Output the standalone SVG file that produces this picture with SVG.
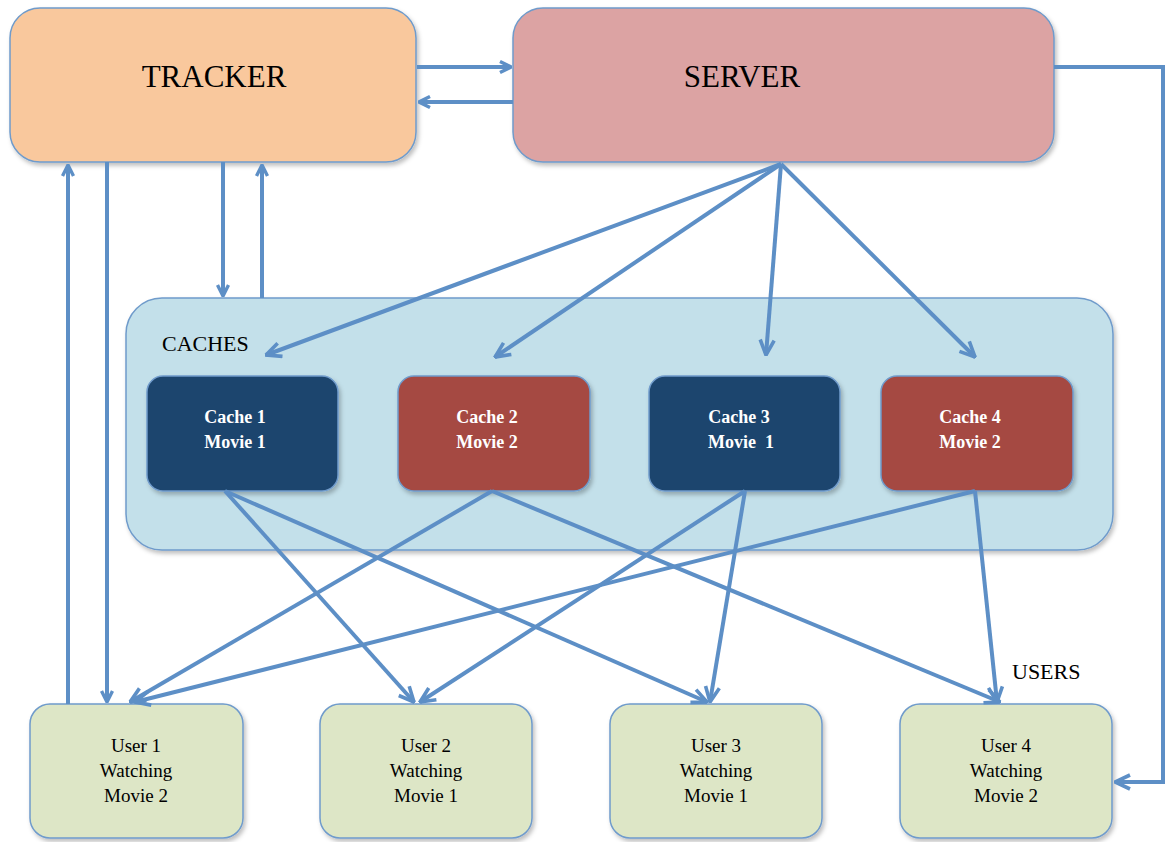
<svg xmlns="http://www.w3.org/2000/svg" width="1165" height="842" viewBox="0 0 1165 842">
<defs>
<style>
.box{stroke:#6F9BCB;stroke-width:1.5}
.tracker{fill:#F9C89D}
.server{fill:#DCA3A3}
.caches{fill:#C3E0EA}
.blue{fill:#1E456E}
.red{fill:#A54A43}
.user{fill:#DDE6C6}
.big{font-family:"Liberation Serif",serif;font-size:31px;fill:#000;text-anchor:middle}
.lbl{font-family:"Liberation Serif",serif;font-size:22px;fill:#000}
.cl{font-family:"Liberation Serif",serif;font-size:18px;font-weight:bold;fill:#fff;text-anchor:middle}
.ul{font-family:"Liberation Serif",serif;font-size:19px;fill:#000;text-anchor:middle}
.c{fill:none;stroke:#5D8FC6;stroke-width:4}
</style>
<marker id="a" viewBox="0 0 14 14" refX="13" refY="7" markerWidth="14" markerHeight="14" markerUnits="userSpaceOnUse" orient="auto">
<polyline points="2,1.5 13,7 2,12.5" fill="none" stroke="#5D8FC6" stroke-width="3.4"/>
</marker>
<marker id="b" viewBox="0 0 18 18" refX="17" refY="9" markerWidth="18" markerHeight="18" markerUnits="userSpaceOnUse" orient="auto">
<polyline points="2,2 17,9 2,16" fill="none" stroke="#5D8FC6" stroke-width="3.6"/>
</marker>
<filter id="sh" x="-5%" y="-5%" width="115%" height="120%">
<feDropShadow dx="2" dy="3" stdDeviation="2" flood-color="#000" flood-opacity="0.25"/>
</filter>
</defs>
<rect width="1165" height="842" fill="#fff"/>
<g id="tracker"><rect class="box tracker" x="10" y="8" width="406" height="154" rx="30" filter="url(#sh)"/><text class="big" x="214" y="87">TRACKER</text></g>
<g id="server"><rect class="box server" x="513" y="8" width="541" height="154" rx="30" filter="url(#sh)"/><text class="big" x="742" y="87">SERVER</text></g>
<g id="caches"><rect class="box caches" x="126" y="298" width="987" height="252" rx="36" filter="url(#sh)"/><text class="lbl" x="162" y="351">CACHES</text></g>
<g id="cache1"><rect class="box blue" x="147" y="376" width="191" height="115" rx="16" filter="url(#sh)"/><text class="cl" x="235" y="423">Cache 1</text><text class="cl" x="235" y="448">Movie 1</text></g>
<g id="cache2"><rect class="box red" x="398" y="376" width="192" height="115" rx="16" filter="url(#sh)"/><text class="cl" x="487" y="423">Cache 2</text><text class="cl" x="487" y="448">Movie 2</text></g>
<g id="cache3"><rect class="box blue" x="649" y="376" width="191" height="115" rx="16" filter="url(#sh)"/><text class="cl" x="739" y="423">Cache 3</text><text class="cl" x="741" y="448" xml:space="preserve">Movie  1</text></g>
<g id="cache4"><rect class="box red" x="881" y="376" width="192" height="115" rx="16" filter="url(#sh)"/><text class="cl" x="970" y="423">Cache 4</text><text class="cl" x="970" y="448">Movie 2</text></g>
<g id="user1"><rect class="box user" x="30" y="704" width="213" height="134" rx="20" filter="url(#sh)"/><text class="ul" x="136" y="752">User 1</text><text class="ul" x="136" y="777">Watching</text><text class="ul" x="136" y="802">Movie 2</text></g>
<g id="user2"><rect class="box user" x="320" y="704" width="212" height="134" rx="20" filter="url(#sh)"/><text class="ul" x="426" y="752">User 2</text><text class="ul" x="426" y="777">Watching</text><text class="ul" x="426" y="802">Movie 1</text></g>
<g id="user3"><rect class="box user" x="610" y="704" width="212" height="134" rx="20" filter="url(#sh)"/><text class="ul" x="716" y="752">User 3</text><text class="ul" x="716" y="777">Watching</text><text class="ul" x="716" y="802">Movie 1</text></g>
<g id="user4"><rect class="box user" x="900" y="704" width="212" height="134" rx="20" filter="url(#sh)"/><text class="ul" x="1006" y="752">User 4</text><text class="ul" x="1006" y="777">Watching</text><text class="ul" x="1006" y="802">Movie 2</text></g>
<text class="lbl" x="1012" y="679">USERS</text>
<g id="connectors" class="c">
<line class="c" x1="417" y1="67" x2="511" y2="67" marker-end="url(#a)"/>
<line class="c" x1="513" y1="102" x2="419" y2="102" marker-end="url(#a)"/>
<line class="c" x1="68" y1="704" x2="68" y2="165" marker-end="url(#a)"/>
<line class="c" x1="107" y1="162" x2="107" y2="702" marker-end="url(#a)"/>
<line class="c" x1="223" y1="162" x2="223" y2="296" marker-end="url(#a)"/>
<line class="c" x1="262" y1="298" x2="262" y2="165" marker-end="url(#a)"/>
<line class="c" x1="781" y1="164" x2="266" y2="355" marker-end="url(#b)"/>
<line class="c" x1="781" y1="164" x2="495" y2="357" marker-end="url(#b)"/>
<line class="c" x1="781" y1="164" x2="766" y2="355" marker-end="url(#b)"/>
<line class="c" x1="781" y1="164" x2="975" y2="357" marker-end="url(#b)"/>
<line class="c" x1="225" y1="491" x2="414" y2="702" marker-end="url(#b)"/>
<line class="c" x1="225" y1="491" x2="707" y2="702" marker-end="url(#b)"/>
<line class="c" x1="492" y1="491" x2="130" y2="702" marker-end="url(#b)"/>
<line class="c" x1="492" y1="491" x2="1000" y2="702" marker-end="url(#b)"/>
<line class="c" x1="745" y1="491" x2="420" y2="702" marker-end="url(#b)"/>
<line class="c" x1="745" y1="491" x2="710" y2="702" marker-end="url(#b)"/>
<line class="c" x1="975" y1="491" x2="135" y2="702" marker-end="url(#b)"/>
<line class="c" x1="975" y1="491" x2="997" y2="702" marker-end="url(#b)"/>
<polyline class="c" points="1054,67 1163,67 1163,782 1115,782" marker-end="url(#b)"/>
</g>
</svg>
